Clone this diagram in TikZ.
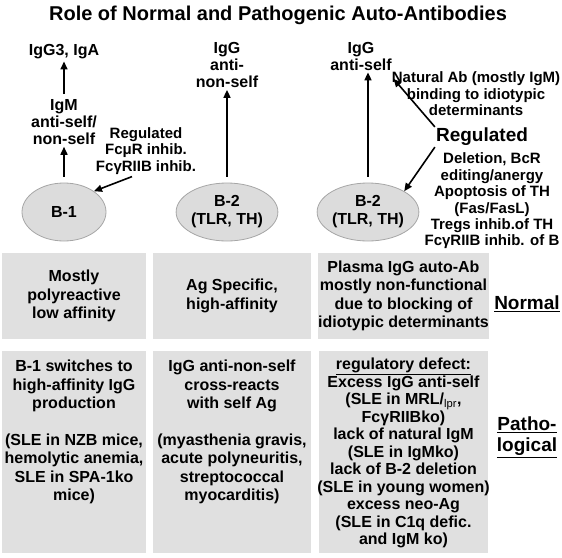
\documentclass[tikz,border=0pt]{standalone}
\usepackage{fontspec}
\setmainfont{Liberation Sans}
\usetikzlibrary{shapes.geometric,arrows.meta,positioning}
\definecolor{boxgray}{HTML}{E0E0E0}
\definecolor{cellgray}{HTML}{DCDCDC}
\definecolor{cellline}{HTML}{A6A6A6}

\begin{document}
\begin{tikzpicture}[x=1pt, y=-1pt,
  lbl/.style={align=center, font=\fontsize{16}{17}\selectfont\bfseries, inner sep=2pt},
  note/.style={align=center, font=\fontsize{15}{16.4}\selectfont\bfseries, inner sep=2pt},
  big/.style={align=center, font=\fontsize{19}{21}\selectfont\bfseries, inner sep=1pt},
  cell/.style={ellipse, draw=cellline, fill=cellgray, thick, minimum width=84pt, minimum height=58pt, align=center, font=\fontsize{16}{18}\selectfont\bfseries, inner sep=0pt},
  bt/.style={align=center, font=\fontsize{16}{18.5}\selectfont\bfseries, inner sep=0pt},
  nbx/.style={rectangle, fill=boxgray, minimum width=#1, minimum height=86pt, bt},
  pbx/.style={rectangle, fill=boxgray, minimum width=#1, minimum height=202pt, inner sep=0pt},
  arr/.style={-{Triangle[length=8pt,width=7pt]}, line width=1.6pt}
]
  \useasboundingbox (0,0) rectangle (562,557);
  \node[big, font=\fontsize{20}{22}\selectfont\bfseries] (title) at (278,15) {Role of Normal and Pathogenic Auto-Antibodies};

  \node[lbl]  (igga)  at (64,52)   {IgG3, IgA};
  \node[lbl]  (igm)   at (64,122)  {IgM\\anti-self/\\non-self};
  \node[note] (regb1) at (146,151) {Regulated\\FcμR inhib.\\FcγRIIB inhib.};
  \node[lbl]  (igg2)  at (227,65)  {IgG\\anti-\\non-self};
  \node[lbl]  (igg3)  at (361,56)  {IgG\\anti-self};
  \node[note] (natab) at (476,94)  {Natural Ab (mostly IgM)\\binding to idiotypic\\determinants};
  \node[big]  (reg)   at (482,137) {Regulated};
  \node[note] (ctrl)  at (492,201) {Deletion, BcR\\editing/anergy\\Apoptosis of TH\\(Fas/FasL)\\Tregs inhib.of TH\\FcγRIIB inhib. of B};

  \node[cell] (b1)  at (64,212)  {B-1};
  \node[cell] (b2a) at (227,212) {B-2\\(TLR, TH)};
  \node[cell] (b2b) at (368,212) {B-2\\(TLR, TH)};

  \draw[arr, shorten <=3pt] (igm) -- (igga);
  \draw[arr, shorten <=6pt] (b1) -- (igm);
  \draw[arr] ([xshift=-14pt]regb1.south) -- (b1.north east);
  \draw[arr, shorten <=6pt] (b2a) -- (igg2);
  \draw[arr, shorten <=6pt] (b2b) -- (b2b |- igg3.south);
  \draw[arr] (reg.north west) -- ([xshift=4pt,yshift=-9pt]natab.north west);
  \draw[arr] (reg.south west) -- (b2b.north east);

  \node[nbx=144pt] (nb1) at (74,296)    {Mostly\\polyreactive\\low affinity};
  \node[nbx=158pt] (nb2) at (232,296)   {Ag Specific,\\high-affinity};
  \node[nbx=169pt] (nb3) at (403.5,296) {Plasma IgG auto-Ab\\mostly non-functional\\due to blocking of\\idiotypic determinants};
  \node[big] (normal) at (527,304) {\underline{Normal}};

  \node[pbx=144pt] (pb1) at (74,452)    {};
  \node[pbx=158pt] (pb2) at (232,452)   {};
  \node[pbx=169pt] (pb3) at (403.5,452) {};
  \node[bt, below=9pt of pb1.north] (pt1) {B-1 switches to\\high-affinity IgG\\production\\[18pt](SLE in NZB mice,\\hemolytic anemia,\\SLE in SPA-1ko\\mice)};
  \node[bt, below=9pt of pb2.north] (pt2) {IgG anti-non-self\\cross-reacts\\with self Ag\\[18pt](myasthenia gravis,\\acute polyneuritis,\\streptococcal\\myocarditis)};
  \node[bt, below=7pt of pb3.north, font=\fontsize{16}{17.5}\selectfont\bfseries] (pt3) {\underline{regulatory defect:}\\Excess IgG anti-self\\(SLE in MRL/\textsubscript{\mdseries lpr},\\FcγRIIBko)\\lack of natural IgM\\(SLE in IgMko)\\lack of B-2 deletion\\(SLE in young women)\\excess neo-Ag\\(SLE in C1q defic.\\and IgM ko)};
  \node[big] (patho) at (527,437) {\underline{Patho-}\\\underline{logical}};
\end{tikzpicture}
\end{document}
